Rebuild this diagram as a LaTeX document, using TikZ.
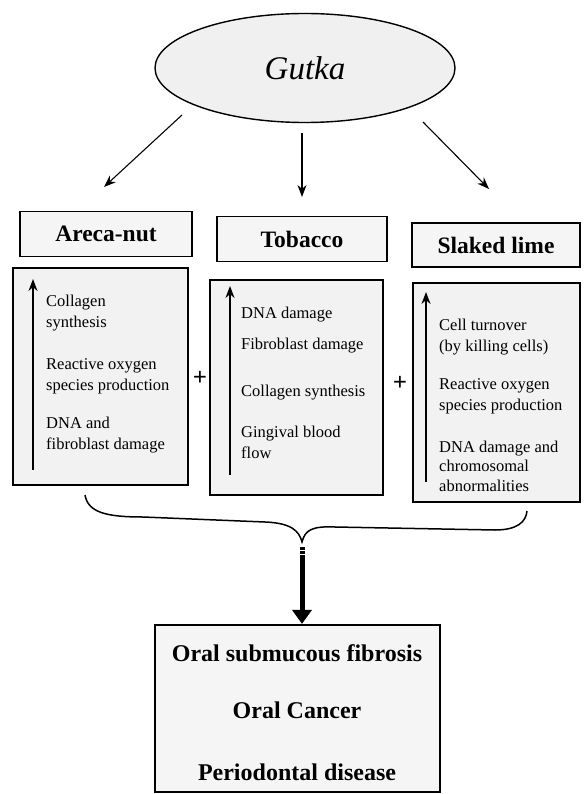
\documentclass[tikz,border=0pt]{standalone}
\usepackage{fontspec}
\setmainfont{Liberation Serif}
\usetikzlibrary{shapes.geometric,arrows.meta}
\begin{document}
\begin{tikzpicture}[x=1pt,y=-1pt,
  hdr/.style={draw, line width=1.1pt, fill=black!4, font=\fontsize{23.5}{26}\selectfont\bfseries, inner sep=0pt},
  cbox/.style={draw, line width=1.1pt, fill=black!5, inner sep=0pt},
  item/.style={anchor=west, align=left, font=\fontsize{16.5}{21}\selectfont, inner sep=0pt},
  uparr/.style={line width=1.5pt, -{Stealth[length=12pt,width=9pt]}},
  garr/.style={line width=1.1pt, -{Stealth[length=12pt,width=9pt]}},
  res/.style={font=\fontsize{24}{26}\selectfont\bfseries, inner sep=0pt},
  plus/.style={font=\fontsize{25}{25}\selectfont\bfseries, inner sep=0pt}]
\useasboundingbox (0,0) rectangle (583,794);
\fill[white] (0,0) rectangle (583,794);

% Gutka ellipse
\node[ellipse, draw, line width=1.4pt, fill=black!6, minimum width=300pt, minimum height=109pt,
  font=\fontsize{33}{33}\selectfont\itshape] (gutka) at (305,68) {Gutka};

% header boxes
\node[hdr, minimum width=172pt, minimum height=45pt] (areca) at (106,234) {Areca-nut};
\node[hdr, minimum width=170pt, minimum height=45pt] (tob) at (302,239) {Tobacco};
\node[hdr, minimum width=168pt, minimum height=44pt] (lime) at (496,245) {Slaked lime};

% arrows from Gutka
\coordinate (gl) at (182,115);
\coordinate (gm) at (302,133);
\coordinate (gr) at (423,122);
\coordinate (al) at (104,187);
\coordinate (am) at (302,197);
\coordinate (ar) at (489,189);
\draw[garr] (gl) -- (al);
\draw[garr] (gm) -- (am);
\draw[garr] (gr) -- (ar);

% content boxes
\node[cbox, minimum width=175pt, minimum height=217pt] (c1) at (100.5,376.5) {};
\node[cbox, minimum width=173pt, minimum height=215pt] (c2) at (296.5,387.5) {};
\node[cbox, minimum width=167pt, minimum height=219pt] (c3) at (496.5,392.5) {};

% up arrows
\coordinate (u1s) at (33,470);
\coordinate (u1e) at (33,279);
\coordinate (u2s) at (230,475);
\coordinate (u2e) at (230,286);
\coordinate (u3s) at (426,482);
\coordinate (u3e) at (426,292);
\draw[uparr] (u1s) -- (u1e);
\draw[uparr] (u2s) -- (u2e);
\draw[uparr] (u3s) -- (u3e);

% items Areca-nut
\node[item] (a1) at (46,313.5) {Collagen\\synthesis};
\node[item] (a2) at (46,376) {Reactive oxygen\\species production};
\node[item] (a3) at (46,435) {DNA and\\fibroblast damage};

% items Tobacco
\node[item] (t1) at (241,315) {DNA damage};
\node[item] (t2) at (241,346) {Fibroblast damage};
\node[item] (t3) at (241,393) {Collagen synthesis};
\node[item] (t4) at (241,442) {Gingival blood\\flow};

% items Slaked lime
\node[item] (s1) at (439,337) {Cell turnover\\(by killing cells)};
\node[item] (s2) at (439,396) {Reactive oxygen\\species production};
\node[item, font=\fontsize{16.5}{19.5}\selectfont] (s3) at (439,466) {DNA damage and\\chromosomal\\abnormalities};

% plus signs
\node[plus] (p1) at (200,378) {+};
\node[plus] (p2) at (400,383) {+};

% brace
\coordinate (bl) at (85,495);
\coordinate (btip) at (302,542);
\coordinate (br) at (527,511);
\draw[line width=1.5pt] (bl) .. controls (88,512) and (105,517) .. (143,517)
  -- (265,522) .. controls (290,523) and (299,530) .. (btip)
  .. controls (305,530) and (312,526) .. (335,527)
  -- (495,530) .. controls (517,530) and (526,522) .. (br);

% result box
\node[draw, line width=2.2pt, fill=black!4, minimum width=285pt, minimum height=167pt, inner sep=0pt] (resbox) at (297.5,708.5) {};
\node[res] (r1) at (297,653) {Oral submucous fibrosis};
\node[res] (r2) at (297,710) {Oral Cancer};
\node[res] (r3) at (297,772) {Periodontal disease};

% down arrow
\coordinate (ds) at (302,547);
\draw[line width=5pt, dash pattern=on 2.5pt off 1.5pt on 2.5pt off 1.5pt on 200pt,
  -{Triangle[length=14pt,width=19pt]}] (ds) -- (resbox.north -| ds);
\end{tikzpicture}
\end{document}
